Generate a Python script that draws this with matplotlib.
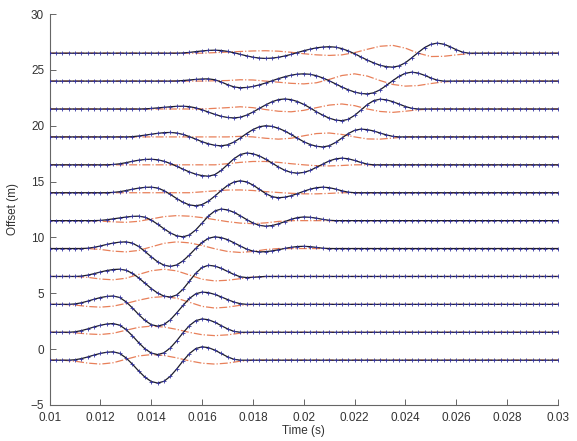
import numpy as np
import matplotlib
matplotlib.use("Agg")
import matplotlib.pyplot as plt

plt.rcParams['font.family'] = ['Liberation Sans', 'DejaVu Sans']

# trace offsets (m)
offsets = [-1, 1.5, 4, 6.5, 9, 11.5, 14, 16.5, 19, 21.5, 24, 26.5]

# sample times: wiggle traces every 0.25 ms, dash-dot curves every 0.5 ms
t_wig = 0.01 + 0.00025 * np.arange(81)
t_red = 0.01 + 0.0005 * np.arange(41)

# wiggle traces: index of first non-zero sample, then the values
wig_start = [4, 4, 4, 5, 6, 8, 10, 10, 13, 15, 20, 21]
wig_vals = [
    [.04, .14, .29, .46, .61, .71, .75, .61, .22, -.34, -.96, -1.52, -1.91, -2.05, -1.89, -1.44, -.79, -.06,
     .59, 1.04, 1.2, 1.12, .9, .6, .3, .08],
    [.04, .15, .30, .48, .63, .74, .78, .64, .26, -.30, -.92, -1.48, -1.86, -2.0, -1.84, -1.40, -.76, -.04,
     .60, 1.04, 1.2, 1.12, .9, .6, .3, .08],
    [.04, .14, .29, .46, .61, .71, .75, .62, .24, -.30, -.90, -1.44, -1.82, -1.95, -1.80, -1.38, -.76, -.09,
     .53, .95, 1.1, 1.05, .89, .67, .43, .21, .06],
    [.03, .12, .25, .40, .53, .62, .65, .56, .29, -.12, -.60, -1.08, -1.49, -1.76, -1.85, -1.66, -1.14, -.42,
     .29, .81, 1.0, .93, .73, .45, .18, -.03, -.1, -.08, -.03],
    [.03, .11, .23, .37, .49, .57, .6, .49, .19, -.26, -.74, -1.19, -1.49, -1.6, -1.47, -1.10, -.57, .02,
     .55, .92, 1.05, .98, .80, .52, .23, -.05, -.23, -.3, -.28, -.21, -.11, .01, .11, .18, .2, .17, .1, .03],
    [.02, .08, .16, .24, .32, .38, .4, .31, .05, -.32, -.73, -1.10, -1.36, -1.45, -1.28, -.83, -.21, .42,
     .87, 1.04, .96, .75, .44, .10, -.21, -.42, -.5, -.44, -.29, -.09, .12, .27, .33, .30, .22, .11, .03],
    [.03, .09, .19, .31, .41, .48, .5, .42, .19, -.15, -.52, -.86, -1.09, -1.17, -1.06, -.75, -.30, .20,
     .65, .96, 1.07, .97, .69, .31, -.07, -.35, -.45, -.40, -.27, -.08, .13, .32, .45, .5, .45, .33, .17, .05],
    [.03, .09, .19, .31, .41, .48, .5, .45, .32, .12, -.13, -.39, -.64, -.84, -.97, -1.02, -.88, -.50,
     .02, .54, .92, 1.06, .99, .80, .50, .16, -.19, -.49, -.68, -.75, -.68, -.50, -.22, .07, .35, .53, .6,
     .54, .39, .21, .06],
    [.02, .08, .16, .24, .32, .38, .4, .35, .22, .03, -.2, -.43, -.62, -.75, -.8, -.71, -.46, -.10,
     .30, .66, .91, 1.0, .94, .78, .53, .22, -.12, -.43, -.68, -.84, -.9, -.79, -.5, -.1, .3, .59, .7,
     .65, .53, .35, .18, .05],
    [.01, .05, .10, .15, .20, .24, .25, .21, .10, -.07, -.28, -.48, -.65, -.76, -.8, -.74, -.55, -.27,
     .05, .37, .65, .84, .9, .84, .67, .41, .10, -.25, -.56, -.82, -.99, -1.05, -.92, -.57, -.09, .40,
     .75, .88, .82, .66, .44, .22, .06],
    [.01, .05, .10, .15, .19, .2, .12, -.08, -.32, -.52, -.6, -.57, -.48, -.34, -.17, .03, .22, .39,
     .53, .62, .65, .61, .48, .28, .03, -.25, -.53, -.78, -.98, -1.11, -1.15, -1.05, -.78, -.39, .04,
     .43, .70, .8, .72, .52, .28, .08],
    [.02, .07, .14, .20, .25, .27, .24, .16, .04, -.10, -.24, -.36, -.44, -.47, -.44, -.37, -.25, -.11,
     .06, .22, .36, .48, .55, .58, .54, .41, .20, -.05, -.34, -.62, -.87, -1.08, -1.21, -1.25, -1.14,
     -.85, -.41, .06, .50, .79, .9, .81, .59, .31, .09],
]

# dash-dot curves (0.5 ms grid)
red_start = [1, 1, 1, 2, 3, 3, 11, 13, 14, 12, 12, 12]
red_vals = [
    [0, -.09, -.26, -.35, -.23, .08, .38, .5, .42, .21, -.06, -.27, -.35, -.26, -.09, 0],
    [0, -.05, -.15, -.2, -.09, .18, .44, .55, .47, .26, -.01, -.22, -.3, -.23, -.08, 0],
    [0, -.06, -.19, -.25, -.16, .08, .37, .61, .7, .55, .19, -.18, -.33, -.25, -.08, 0],
    [0, -.08, -.23, -.3, -.16, .18, .51, .65, .5, .13, -.25, -.4, -.34, -.2, -.06, 0],
    [0, -.08, -.23, -.3, -.17, .15, .47, .6, .51, .27, -.02, -.26, -.35, -.26, -.09, 0],
    [0, -.04, -.11, -.15, -.06, .15, .36, .45, .40, .27, .09, -.09, -.22, -.27, -.2, -.07, 0],
    [0, .08, .17, .24, .25, .2, .1, .02, -.05, -.1, -.1, -.06, 0],
    [0, .1, .22, .3, .3, .22, .1, 0, -.08, -.1, -.06, 0],
    [0, .05, 0, -.12, -.2, -.12, .1, .3, .35, .22, 0, -.18, -.2, -.1, 0],
    [0, .06, .12, .2, .12, -.05, -.2, -.25, -.12, .12, .35, .45, .3, 0, -.22, -.3, -.2, -.07, 0],
    [0, .03, .05, .12, .1, 0, -.1, -.2, -.25, -.15, .15, .5, .65, .45, .05, -.3, -.45, -.4, -.22, -.07, 0],
    [0, .05, .1, .15, .2, .22, .18, .08, -.05, -.15, -.2, -.15, .05, .35, .62, .7, .45, 0, -.3, -.28,
     -.15, -.04, 0],
]

xticks = [0.01, 0.012, 0.014, 0.016, 0.018, 0.02, 0.022, 0.024, 0.026, 0.028, 0.03]
xtick_labels = ['0.01', '0.012', '0.014', '0.016', '0.018', '0.02', '0.022', '0.024', '0.026', '0.028', '0.03']
yticks = [-5, 0, 5, 10, 15, 20, 25, 30]


def pad(vals, start, n):
    out = np.zeros(n)
    out[start:start + len(vals)] = vals
    return out


fig = plt.figure(figsize=(5.77, 4.41), dpi=100)
ax = fig.add_axes([0.086, 0.082, 0.881, 0.886])

for i, off in enumerate(offsets):
    red = pad(red_vals[i], red_start[i], len(t_red))
    ax.plot(t_red, off + red, '-.', color='#e8805a', lw=0.9, zorder=1)
    wig = pad(wig_vals[i], wig_start[i], len(t_wig))
    ax.plot(t_wig, off + wig, '-', color='#1c1c2c', lw=0.9, zorder=2)
    ax.plot(t_wig, off + wig, '+', color='#3535a0', ms=3, mew=0.6, zorder=3)

ax.set_xlim(0.01, 0.03)
ax.set_ylim(-5, 30)
ax.set_xticks(xticks)
ax.set_xticklabels(xtick_labels)
ax.set_yticks(yticks)
ax.set_xlabel('Time (s)', fontsize=8.5, color='#333333', labelpad=1)
ax.set_ylabel('Offset (m)', fontsize=8.5, color='#333333', labelpad=8)

for side in ['top', 'right']:
    ax.spines[side].set_visible(False)
for side in ['left', 'bottom']:
    ax.spines[side].set_color('#666666')
    ax.spines[side].set_linewidth(0.8)
ax.tick_params(direction='in', length=4, width=0.7, colors='#666666', labelsize=8.5,
               labelcolor='#333333')
ax.tick_params(axis='x', pad=5)
ax.tick_params(axis='y', pad=4)

fig.savefig('out.png', dpi=100)
